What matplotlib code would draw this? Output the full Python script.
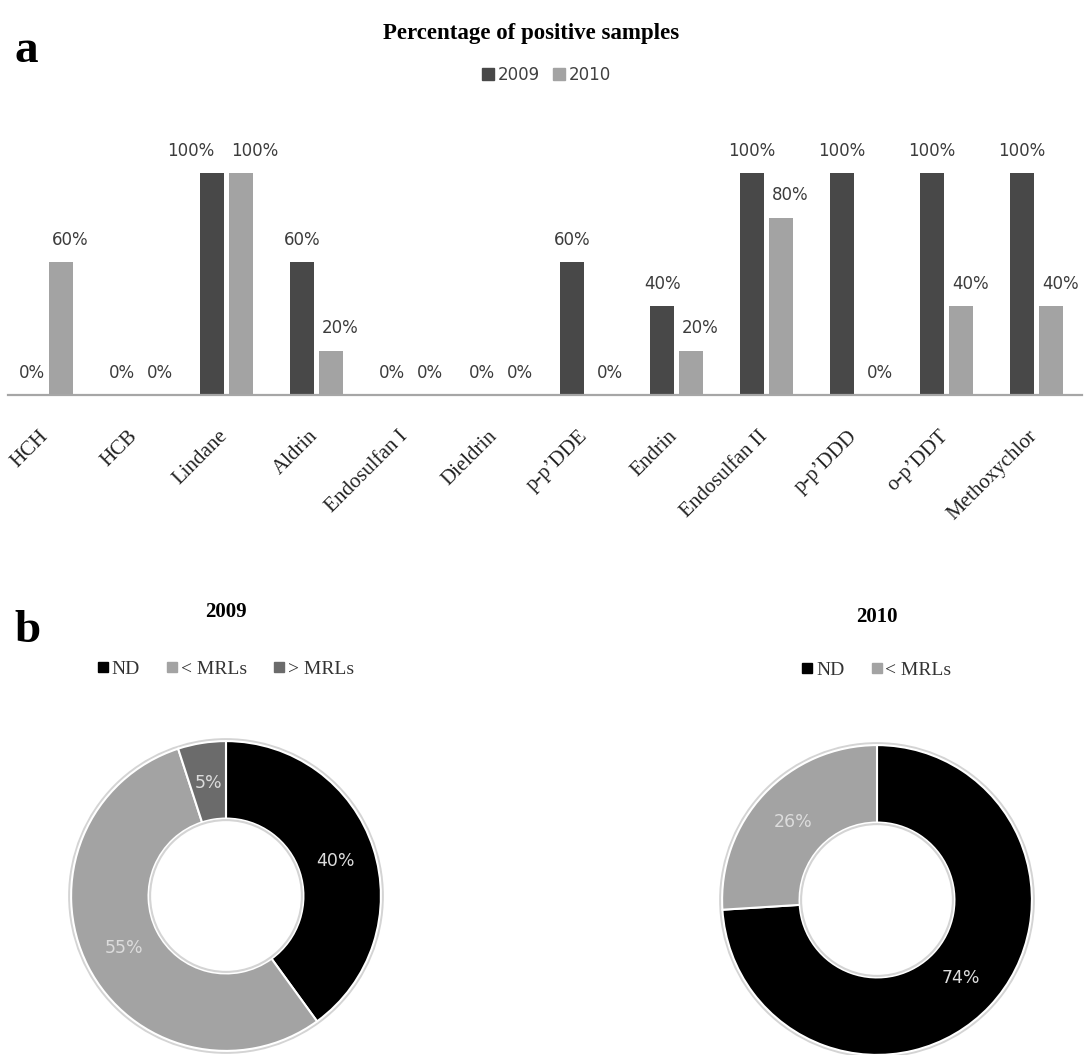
import numpy as np
import matplotlib
matplotlib.use("Agg")
import matplotlib.pyplot as plt
from matplotlib.lines import Line2D
from matplotlib.patches import Circle
from matplotlib.transforms import ScaledTranslation

# --- datos ---
pesticidas = ["HCH", "HCB", "Lindane", "Aldrin", "Endosulfan I", "Dieldrin",
              "p-p\u2019DDE", "Endrin", "Endosulfan II", "p-p\u2019DDD",
              "o-p\u2019DDT", "Methoxychlor"]
positivos_2009 = [0, 0, 100, 60, 0, 0, 60, 40, 100, 100, 100, 100]
positivos_2010 = [60, 0, 100, 20, 0, 0, 0, 20, 80, 0, 40, 40]

categorias_2009 = ["ND", "< MRLs", "> MRLs"]
muestras_2009 = [40, 55, 5]
categorias_2010 = ["ND", "< MRLs"]
muestras_2010 = [74, 26]

COLOR_2009 = "#484848"
COLOR_2010 = "#a3a3a3"
colores_pie = {"ND": "#000000", "< MRLs": "#a3a3a3", "> MRLs": "#6b6b6b"}

W, H = 1084, 1055
fig = plt.figure(figsize=(W / 100, H / 100), dpi=100)


def caja(x0, y0, w, h):
    # rectangulo en pixeles (origen arriba a la izquierda) -> fracciones de figura
    return [x0 / W, 1 - (y0 + h) / H, w / W, h / H]


# ---------------- a) barras ----------------
ax = fig.add_axes(caja(8, 129, 1073.7, 266))
x = np.arange(len(pesticidas))
ancho = 0.267
desp = 0.161
b09 = ax.bar(x - desp, np.array(positivos_2009) / 100, ancho, color=COLOR_2009)
b10 = ax.bar(x + desp, np.array(positivos_2010) / 100, ancho, color=COLOR_2010)
ax.set_xlim(-0.43, 11.5)
ax.set_ylim(0, 1.2)

for i in range(len(pesticidas)):
    dx09, dx10 = 0, 9
    # separar etiquetas que chocan cuando ambas barras tienen la misma altura
    if positivos_2009[i] == positivos_2010[i] and positivos_2009[i] > 0:
        dx09, dx10 = -21, 14
    for barra, valor, dx in ((b09[i], positivos_2009[i], dx09),
                             (b10[i], positivos_2010[i], dx10)):
        ax.annotate(f"{valor}%", (barra.get_x() + barra.get_width() / 2, barra.get_height()),
                    xytext=(dx * 0.72, 16), textcoords="offset points",
                    ha="center", va="center", fontsize=12, color="#3c3c3c",
                    family="DejaVu Sans")

for lado in ("top", "left", "right"):
    ax.spines[lado].set_visible(False)
ax.spines["bottom"].set_color("#a6a6a6")
ax.spines["bottom"].set_linewidth(1.6)
ax.set_yticks([])
ax.set_xticks(x)
ax.set_xticklabels(pesticidas, rotation=45, ha="right", family="Liberation Serif",
                   fontsize=15, color="#222222")
ax.tick_params(axis="x", length=0, pad=23)
for etiqueta in ax.get_xticklabels():
    etiqueta.set_transform(etiqueta.get_transform() +
                           ScaledTranslation(0.05, 0, fig.dpi_scale_trans))

fig.text(531 / W, 1 - 33 / H, "Percentage of positive samples", ha="center", va="center",
         family="Liberation Serif", fontweight="bold", fontsize=16.5)
fig.text(14 / W, 1 - 62 / H, "a", family="Liberation Serif", fontweight="bold",
         fontsize=34, va="baseline")

leyenda_barras = [Line2D([], [], marker="s", ls="none", ms=8, color=COLOR_2009, label="2009"),
                  Line2D([], [], marker="s", ls="none", ms=8, color=COLOR_2010, label="2010")]
fig.legend(handles=leyenda_barras, loc="center", bbox_to_anchor=(547 / W, 1 - 75 / H),
           ncol=2, frameon=False, handlelength=0.6, handletextpad=0.25, columnspacing=0.9,
           prop={"family": "DejaVu Sans", "size": 12}, labelcolor="#404040")

# ---------------- b) anillos ----------------
def anillo(cx, cy, valores, categorias, titulo, ty, ly):
    r = 158
    axp = fig.add_axes(caja(cx - r, cy - r, 2 * r, 2 * r))
    colores = [colores_pie[c] for c in categorias]
    wedges, _, textos = axp.pie(valores, colors=colores, startangle=90, counterclock=False,
                                autopct="%1.0f%%", pctdistance=0.74,
                                wedgeprops=dict(width=0.5, edgecolor="white", linewidth=1.5),
                                textprops=dict(color="#dcdcdc", fontsize=12.5,
                                               family="DejaVu Sans"))
    axp.add_patch(Circle((0, 0), 1.008, fill=False, ec="#d4d4d4", lw=2.5, zorder=0))
    axp.add_patch(Circle((0, 0), 0.49, fill=False, ec="#d4d4d4", lw=1.5, zorder=5))
    axp.set_xlim(-1.02, 1.02)
    axp.set_ylim(-1.02, 1.02)
    axp.set_aspect("equal")
    axp.axis("off")
    fig.text(cx / W, 1 - ty / H, titulo, ha="center", va="center",
             family="Liberation Serif", fontweight="bold", fontsize=15)
    handles = [Line2D([], [], marker="s", ls="none", ms=6.5, color=colores_pie[c], label=c)
               for c in categorias]
    fig.legend(handles=handles, loc="center", bbox_to_anchor=(cx / W, 1 - ly / H),
               ncol=len(categorias), frameon=False, handlelength=0.5, handletextpad=0.2,
               columnspacing=1.4, prop={"family": "Liberation Serif", "size": 14},
               labelcolor="#333333")


anillo(226, 896, muestras_2009, categorias_2009, "2009", 612, 669)
anillo(877, 900, muestras_2010, categorias_2010, "2010", 617, 670)

fig.text(14 / W, 1 - 642 / H, "b", family="Liberation Serif", fontweight="bold",
         fontsize=34, va="baseline")

fig.savefig("out.png", dpi=100, facecolor="white")
